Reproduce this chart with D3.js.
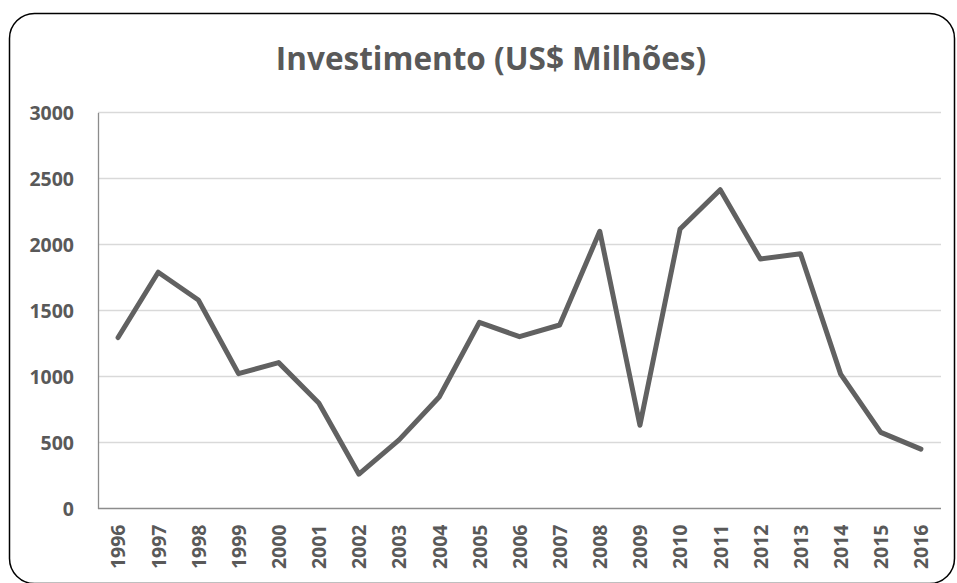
<!DOCTYPE html>
<html>
<head>
<meta charset="utf-8">
<script src="https://cdn.jsdelivr.net/npm/d3@7"></script>
<style>
  body { margin:0; background:#fff; }
  text { font-family: "Open Sans", sans-serif; font-weight:bold; fill:#595959; }
</style>
</head>
<body>
<div id="chart"></div>
<script>
var years = ["1996","1997","1998","1999","2000","2001","2002","2003","2004","2005","2006",
  "2007","2008","2009","2010","2011","2012","2013","2014","2015","2016"];
var investimento = [1295,1790,1580,1022,1105,800,260,520,845,1410,1302,
  1390,2100,630,2118,2415,1890,1930,1018,577,450];
var yTicks = [0,500,1000,1500,2000,2500,3000];

var width = 957, height = 583;
var margin = {left:98, right:16, top:112.5, bottom:74.5};

var svg = d3.select("#chart").append("svg").attr("width",width).attr("height",height);

// rounded frame
svg.append("rect")
  .attr("x",9.5).attr("y",13.5)
  .attr("width",945).attr("height",570)
  .attr("rx",25).attr("ry",25)
  .attr("fill","#fff").attr("stroke","#000").attr("stroke-width",1.5);

svg.append("text")
  .attr("x",491).attr("y",70)
  .attr("text-anchor","middle")
  .style("font-size","31.5px")
  .text("Investimento (US$ Milhões)");

var x = d3.scalePoint()
  .domain(years)
  .range([margin.left, width - margin.right])
  .padding(0.5);

var y = d3.scaleLinear()
  .domain([0,3000])
  .range([height - margin.bottom, margin.top]);

// gridlines
svg.append("g").selectAll("line")
  .data(yTicks.filter(function(d){ return d>0; }))
  .enter().append("line")
  .attr("x1",margin.left).attr("x2",width - margin.right)
  .attr("y1",function(d){ return y(d); }).attr("y2",function(d){ return y(d); })
  .attr("stroke","#d9d9d9").attr("stroke-width",1.3);

// y axis
var yAxis = svg.append("g")
  .attr("transform","translate("+margin.left+",0)")
  .call(d3.axisLeft(y).tickValues(yTicks).tickFormat(d3.format("d")).tickSize(0).tickPadding(24));
yAxis.select(".domain").attr("stroke","#8c8c8c").attr("stroke-width",1.3);
yAxis.selectAll("text").style("font-size","19.5px").attr("dy","0.35em");

// x axis
var xAxis = svg.append("g")
  .attr("transform","translate(0,"+(height - margin.bottom)+")")
  .call(d3.axisBottom(x).tickSize(0).tickPadding(0));
xAxis.select(".domain").attr("stroke","#8c8c8c").attr("stroke-width",1.3)
  .attr("d","M"+margin.left+",0H"+(width - margin.right));
xAxis.selectAll("text")
  .style("font-size","19.5px")
  .attr("text-anchor","end")
  .attr("dy","0.35em")
  .attr("transform","translate(0,16) rotate(-90)");

var line = d3.line()
  .x(function(d,i){ return x(years[i]); })
  .y(function(d){ return y(d); });

svg.append("path")
  .datum(investimento)
  .attr("d",line)
  .attr("fill","none")
  .attr("stroke","#616161")
  .attr("stroke-width",5)
  .attr("stroke-linejoin","round")
  .attr("stroke-linecap","round");
</script>
</body>
</html>
